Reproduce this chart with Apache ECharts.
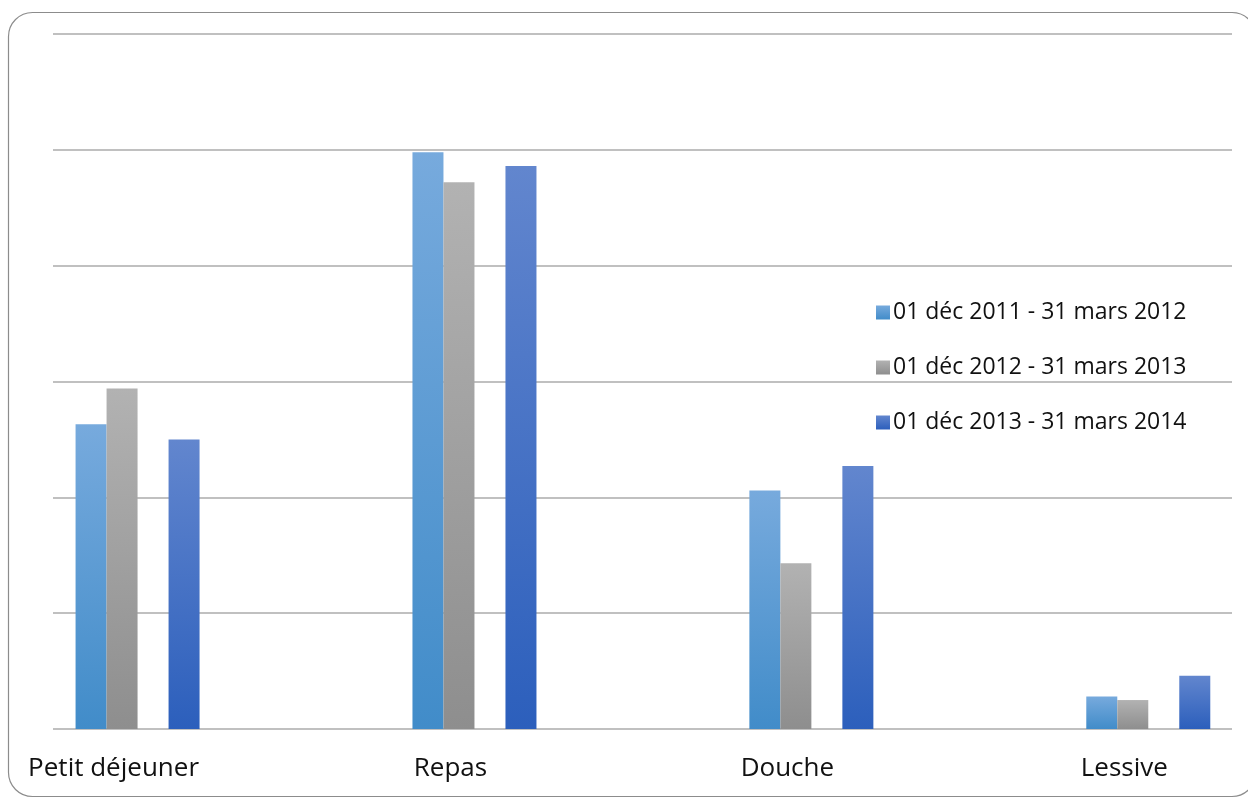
<!DOCTYPE html>
<html>
<head>
<meta charset="utf-8">
<style>
  html, body { margin: 0; padding: 0; background: #ffffff; }
  #chart { width: 1248px; height: 798px; }
</style>
<script src="https://cdn.jsdelivr.net/npm/echarts@6/dist/echarts.min.js"></script>
</head>
<body>
<div id="chart"></div>
<script>
// Categories and series values
const categories = ['Petit déjeuner', 'Repas', 'Douche', 'Lessive'];
const seriesNames = [
  '01 déc 2011 - 31 mars 2012',
  '01 déc 2012 - 31 mars 2013',
  '01 déc 2013 - 31 mars 2014'
];
const values2011 = [26.3, 49.8, 20.6, 2.8];
const values2012 = [29.4, 47.2, 14.3, 2.5];
const values2013 = [25.0, 48.6, 22.7, 4.6];
const yMax = 60;
const yInterval = 10;
// horizontal extent of the category positions (0..3) on the value x axis
const xMin = -0.251;
const xMax = 3.2485;

function grad(top, bottom) {
  return new echarts.graphic.LinearGradient(0, 0, 0, 1, [
    { offset: 0, color: top },
    { offset: 1, color: bottom }
  ]);
}

const colBlue = grad('#77aadd', '#418cc9');
const colGray = grad('#b2b2b2', '#8e8e8e');
const colDark = grad('#6286ce', '#2c5fbc');

// pair each value with its category index
function toPoints(vals) {
  return vals.map((v, i) => [i, v]);
}

const chart = echarts.init(document.getElementById('chart'), null, { renderer: 'canvas' });

const font = '"Open Sans", "Liberation Sans", sans-serif';

chart.setOption({
  animation: false,
  backgroundColor: '#ffffff',
  graphic: [{
    type: 'rect',
    shape: { x: 8.5, y: 12.5, width: 1247.5, height: 784, r: 24 },
    style: { fill: 'none', stroke: '#8c8c8c', lineWidth: 1.2 },
    z: -1
  }],
  legend: {
    orient: 'vertical',
    left: 871,
    top: 296,
    data: seriesNames,
    icon: 'rect',
    itemWidth: 14,
    itemHeight: 14,
    itemGap: 32,
    textStyle: { fontFamily: font, fontSize: 23, color: '#111111', padding: [0, 0, 0, -2] }
  },
  grid: { left: 53, right: 16, top: 34, bottom: 69, containLabel: false },
  xAxis: {
    type: 'value', min: xMin, max: xMax,
    axisLine: { show: false }, axisTick: { show: false },
    splitLine: { show: false },
    axisLabel: {
      customValues: [0, 1, 2, 3],
      formatter: (v) => categories[Math.round(v)] || '',
      fontFamily: font, fontSize: 26, color: '#111111', margin: 27,
      padding: [0, 48, 0, 0]
    }
  },
  yAxis: {
    type: 'value', min: 0, max: yMax, interval: yInterval,
    axisLabel: { show: false }, axisLine: { show: false }, axisTick: { show: false },
    splitLine: { show: true, lineStyle: { color: '#ababab', width: 1.5 } }
  },
  series: [
    { name: seriesNames[0], type: 'bar', data: toPoints(values2011),
      barWidth: 31, barGap: 0, itemStyle: { color: colBlue } },
    { name: seriesNames[1], type: 'bar', data: toPoints(values2012),
      barWidth: 31, barGap: 0, itemStyle: { color: colGray } },
    { name: 'vide', type: 'bar', data: [],
      barWidth: 31, barGap: 0 },
    { name: seriesNames[2], type: 'bar', data: toPoints(values2013),
      barWidth: 31, barGap: 0, itemStyle: { color: colDark } }
  ]
});
</script>
</body>
</html>
